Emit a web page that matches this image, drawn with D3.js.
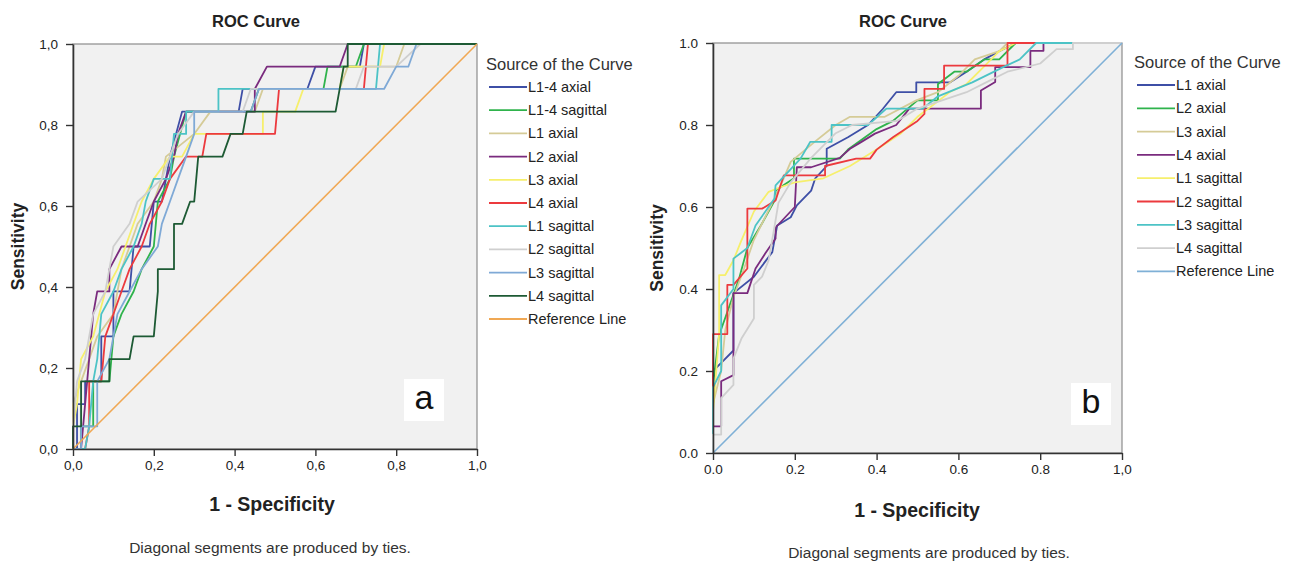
<!DOCTYPE html>
<html>
<head>
<meta charset="utf-8">
<script src="https://cdn.jsdelivr.net/npm/d3@7"></script>
<style>
  body { margin: 0; background: #fff; }
  text { font-family: Arial, "Liberation Sans", sans-serif; }
</style>
</head>
<body>
<div id="chart"></div>
<script>
// tick values shared by both panels
const tickValues = [0, 0.2, 0.4, 0.6, 0.8, 1.0];
const leftTickLabels = ["0,0", "0,2", "0,4", "0,6", "0,8", "1,0"];
const rightTickLabelsY = ["0.0", "0.2", "0.4", "0.6", "0.8", "1.0"];
const rightTickLabelsX = ["0.0", "0.2", "0.4", "0.6", "0.8", "1,0"];

// panel a: legend names and ROC points [1 - specificity, sensitivity]
const leftNames = ["L1-4 axial", "L1-4 sagittal", "L1 axial", "L2 axial", "L3 axial",
  "L4 axial", "L1 sagittal", "L2 sagittal", "L3 sagittal", "L4 sagittal"];

const leftCurves = [
  [[0,0],[0.01,0],[0.01,0.111],[0.03,0.111],[0.03,0.167],[0.07,0.167],[0.07,0.278],[0.1,0.278],[0.1,0.389],[0.14,0.389],[0.15,0.5],[0.19,0.5],[0.2,0.611],[0.22,0.611],[0.24,0.722],[0.27,0.833],[0.41,0.833],[0.42,0.889],[0.58,0.889],[0.6,0.944],[0.71,0.944],[0.72,1],[1,1]],
  [[0,0],[0.02,0],[0.02,0.056],[0.05,0.056],[0.05,0.167],[0.09,0.167],[0.1,0.278],[0.12,0.333],[0.15,0.389],[0.17,0.444],[0.2,0.5],[0.21,0.611],[0.24,0.667],[0.25,0.722],[0.28,0.833],[0.44,0.833],[0.46,0.889],[0.62,0.889],[0.63,0.944],[0.7,0.944],[0.72,1],[1,1]],
  [[0,0],[0,0.111],[0.02,0.167],[0.04,0.222],[0.06,0.278],[0.1,0.333],[0.12,0.444],[0.14,0.5],[0.16,0.556],[0.2,0.611],[0.22,0.667],[0.23,0.722],[0.3,0.778],[0.34,0.833],[0.45,0.833],[0.47,0.889],[0.66,0.889],[0.68,0.944],[0.8,0.944],[0.82,1],[1,1]],
  [[0,0],[0.02,0],[0.03,0.111],[0.04,0.222],[0.05,0.333],[0.06,0.389],[0.09,0.389],[0.09,0.444],[0.12,0.5],[0.16,0.5],[0.18,0.556],[0.2,0.611],[0.23,0.667],[0.25,0.722],[0.26,0.778],[0.28,0.833],[0.45,0.833],[0.45,0.889],[0.48,0.944],[0.66,0.944],[0.68,1],[1,1]],
  [[0,0],[0,0.056],[0.01,0.111],[0.02,0.222],[0.05,0.278],[0.08,0.389],[0.11,0.444],[0.13,0.5],[0.15,0.556],[0.17,0.611],[0.2,0.667],[0.24,0.722],[0.27,0.722],[0.3,0.778],[0.47,0.778],[0.47,0.833],[0.55,0.833],[0.57,0.889],[0.66,0.889],[0.67,0.944],[0.76,0.944],[0.77,1],[1,1]],
  [[0,0],[0.03,0],[0.04,0.056],[0.04,0.167],[0.07,0.167],[0.08,0.278],[0.1,0.333],[0.12,0.389],[0.14,0.444],[0.17,0.5],[0.19,0.556],[0.22,0.611],[0.24,0.667],[0.28,0.722],[0.32,0.722],[0.33,0.778],[0.5,0.778],[0.51,0.889],[0.72,0.889],[0.73,1],[1,1]],
  [[0,0],[0.03,0],[0.04,0.056],[0.05,0.167],[0.06,0.222],[0.07,0.333],[0.1,0.389],[0.12,0.444],[0.15,0.5],[0.17,0.556],[0.18,0.611],[0.2,0.667],[0.24,0.667],[0.25,0.778],[0.28,0.778],[0.28,0.833],[0.36,0.833],[0.36,0.889],[0.75,0.889],[0.76,1],[1,1]],
  [[0,0],[0,0.056],[0.01,0.167],[0.03,0.222],[0.05,0.333],[0.08,0.389],[0.1,0.5],[0.14,0.556],[0.16,0.611],[0.22,0.667],[0.26,0.778],[0.3,0.833],[0.42,0.833],[0.44,0.889],[0.7,0.889],[0.72,0.944],[0.8,0.944],[0.86,1],[1,1]],
  [[0,0],[0.02,0],[0.02,0.056],[0.06,0.056],[0.06,0.167],[0.09,0.222],[0.1,0.278],[0.11,0.333],[0.14,0.389],[0.17,0.444],[0.21,0.5],[0.22,0.556],[0.24,0.611],[0.26,0.667],[0.28,0.722],[0.3,0.778],[0.3,0.833],[0.44,0.833],[0.46,0.889],[0.77,0.889],[0.8,0.944],[0.83,0.944],[0.85,1],[1,1]],
  [[0,0],[0,0.056],[0.02,0.056],[0.02,0.167],[0.09,0.167],[0.09,0.222],[0.14,0.222],[0.15,0.278],[0.2,0.278],[0.21,0.389],[0.21,0.444],[0.25,0.444],[0.25,0.556],[0.27,0.556],[0.29,0.611],[0.3,0.611],[0.31,0.722],[0.37,0.722],[0.39,0.778],[0.42,0.778],[0.43,0.833],[0.65,0.833],[0.67,0.944],[0.68,0.944],[0.68,1],[1,1]]
];

// panel b
const rightNames = ["L1 axial", "L2 axial", "L3 axial", "L4 axial",
  "L1 sagittal", "L2 sagittal", "L3 sagittal", "L4 sagittal"];

const rightCurves = [
  [[0,0],[0,0.2],[0.02,0.22],[0.05,0.25],[0.05,0.39],[0.1,0.43],[0.145,0.49],[0.157,0.555],[0.19,0.575],[0.205,0.604],[0.24,0.64],[0.25,0.67],[0.278,0.7],[0.278,0.742],[0.33,0.77],[0.379,0.8],[0.415,0.839],[0.448,0.88],[0.497,0.88],[0.497,0.904],[0.58,0.904],[0.62,0.93],[0.663,0.96],[0.7,0.98],[0.74,1],[1,1]],
  [[0,0],[0,0.166],[0.015,0.288],[0.03,0.33],[0.064,0.426],[0.084,0.5],[0.12,0.56],[0.153,0.62],[0.153,0.64],[0.198,0.67],[0.198,0.718],[0.31,0.718],[0.33,0.74],[0.4,0.79],[0.44,0.81],[0.5,0.86],[0.55,0.86],[0.55,0.9],[0.59,0.93],[0.62,0.93],[0.663,0.96],[0.7,0.96],[0.74,1],[1,1]],
  [[0,0],[0,0.12],[0.02,0.2],[0.03,0.3],[0.05,0.38],[0.076,0.45],[0.1,0.52],[0.13,0.58],[0.16,0.64],[0.19,0.71],[0.25,0.76],[0.3,0.8],[0.335,0.82],[0.42,0.82],[0.497,0.86],[0.55,0.88],[0.6,0.92],[0.64,0.96],[0.7,0.98],[0.72,1],[1,1]],
  [[0,0],[0,0.065],[0.02,0.065],[0.02,0.175],[0.05,0.19],[0.05,0.39],[0.084,0.39],[0.104,0.45],[0.128,0.487],[0.153,0.523],[0.153,0.55],[0.2,0.6],[0.205,0.697],[0.24,0.697],[0.31,0.72],[0.335,0.742],[0.36,0.757],[0.396,0.779],[0.448,0.8],[0.48,0.84],[0.655,0.84],[0.655,0.884],[0.69,0.905],[0.69,0.941],[0.776,0.941],[0.776,0.981],[0.808,0.981],[0.808,1],[1,1]],
  [[0,0],[0,0.1],[0.015,0.29],[0.015,0.434],[0.03,0.434],[0.05,0.47],[0.068,0.515],[0.1,0.589],[0.136,0.637],[0.17,0.65],[0.2,0.66],[0.27,0.67],[0.335,0.7],[0.4,0.74],[0.46,0.78],[0.5,0.82],[0.553,0.86],[0.578,0.88],[0.62,0.9],[0.66,0.94],[0.7,0.98],[0.74,1],[1,1]],
  [[0,0],[0,0.29],[0.035,0.29],[0.035,0.41],[0.05,0.41],[0.084,0.45],[0.084,0.596],[0.12,0.596],[0.153,0.616],[0.173,0.677],[0.274,0.677],[0.274,0.7],[0.35,0.718],[0.384,0.718],[0.4,0.74],[0.44,0.77],[0.5,0.81],[0.517,0.827],[0.517,0.888],[0.565,0.888],[0.565,0.945],[0.72,0.945],[0.72,1],[1,1]],
  [[0,0],[0,0.16],[0.02,0.2],[0.02,0.36],[0.05,0.4],[0.05,0.474],[0.084,0.5],[0.104,0.555],[0.15,0.62],[0.153,0.653],[0.214,0.718],[0.238,0.759],[0.29,0.759],[0.29,0.8],[0.379,0.8],[0.424,0.84],[0.513,0.84],[0.55,0.87],[0.634,0.904],[0.707,0.94],[0.75,0.96],[0.79,1],[1,1]],
  [[0,0],[0,0.045],[0.02,0.045],[0.02,0.134],[0.05,0.166],[0.05,0.23],[0.07,0.28],[0.1,0.328],[0.1,0.41],[0.12,0.43],[0.136,0.47],[0.15,0.55],[0.16,0.61],[0.19,0.66],[0.24,0.72],[0.3,0.78],[0.34,0.8],[0.45,0.81],[0.5,0.84],[0.56,0.86],[0.62,0.88],[0.68,0.91],[0.72,0.93],[0.8,0.95],[0.84,0.985],[0.88,0.985],[0.88,1],[1,1]]
];

// SPSS default palette
const leftColors = ["#3e4fa6", "#2fb34c", "#d5cb97", "#7a2b7e", "#f6ef6c",
  "#ec3a3e", "#4cc3c6", "#cfcfcf", "#7fa9d6", "#1d5a34"];
const rightColors = ["#3e4fa6", "#2fb34c", "#d5cb97", "#7a2b7e",
  "#f6ef6c", "#ec3a3e", "#4cc3c6", "#cfcfcf"];

const svg = d3.select('#chart')
  .append('svg')
  .attr('width', 1300)
  .attr('height', 564);

function drawPanel(p) {
  const x = d3.scaleLinear().domain([0, 1]).range([p.left, p.right]);
  const y = d3.scaleLinear().domain([0, 1]).range([p.bottom, p.top]);
  const g = svg.append('g');

  // plot background + top/right frame
  g.append('rect')
    .attr('x', p.left).attr('y', p.top)
    .attr('width', p.right - p.left).attr('height', p.bottom - p.top)
    .attr('fill', '#f1f1f1')
    .attr('stroke', '#8c8c8c')
    .attr('stroke-width', 1.2);

  const line = d3.line().x(d => x(d[0])).y(d => y(d[1]));

  g.selectAll('path.curve')
    .data(p.curves)
    .enter().append('path')
    .attr('class', 'curve')
    .attr('d', line)
    .attr('fill', 'none')
    .attr('stroke', (d, i) => p.colors[i])
    .attr('stroke-width', 1.8)
    .attr('stroke-linejoin', 'round');

  // reference line
  g.append('path')
    .attr('d', line([[0, 0], [1, 1]]))
    .attr('stroke', p.refColor)
    .attr('stroke-width', 1.6)
    .attr('fill', 'none');

  // axes
  const yAxis = g.append('g')
    .attr('transform', `translate(${p.left},0)`)
    .call(d3.axisLeft(y).tickValues(tickValues)
      .tickFormat((d, i) => p.yLabels[i]).tickSize(7).tickSizeOuter(0).tickPadding(8));
  const xAxis = g.append('g')
    .attr('transform', `translate(0,${p.bottom})`)
    .call(d3.axisBottom(x).tickValues(tickValues)
      .tickFormat((d, i) => p.xLabels[i]).tickSize(7).tickSizeOuter(0).tickPadding(4));
  [yAxis, xAxis].forEach(a => {
    a.select('.domain').attr('stroke', '#333').attr('stroke-width', 1.6);
    a.selectAll('.tick line').attr('stroke', '#333').attr('stroke-width', 1.4);
    a.selectAll('.tick text')
      .attr('font-family', 'Arial, "Liberation Sans", sans-serif')
      .attr('font-size', 13.5).attr('fill', '#222');
  });

  // titles
  g.append('text')
    .attr('x', p.titleX).attr('y', 27)
    .attr('text-anchor', 'middle')
    .attr('font-size', 16.5).attr('font-weight', 'bold').attr('fill', '#222')
    .text('ROC Curve');
  g.append('text')
    .attr('x', p.xLabelX).attr('y', p.xLabelY)
    .attr('text-anchor', 'middle')
    .attr('font-size', 19.5).attr('font-weight', 'bold').attr('fill', '#222')
    .text('1 - Specificity');
  g.append('text')
    .attr('transform', `translate(${p.yLabelX},${(p.top + p.bottom) / 2}) rotate(-90)`)
    .attr('text-anchor', 'middle')
    .attr('font-size', 17.5).attr('font-weight', 'bold').attr('fill', '#222')
    .text('Sensitivity');
  g.append('text')
    .attr('x', p.captionX).attr('y', p.captionY)
    .attr('text-anchor', 'middle')
    .attr('font-size', 15.5).attr('fill', '#333')
    .text('Diagonal segments are produced by ties.');

  // panel letter in white box
  g.append('rect')
    .attr('x', p.letterX - 20).attr('y', p.letterY - 30)
    .attr('width', 40).attr('height', 42)
    .attr('fill', '#fff');
  g.append('text')
    .attr('x', p.letterX).attr('y', p.letterY)
    .attr('text-anchor', 'middle')
    .attr('font-family', '"Open Sans", sans-serif')
    .attr('font-size', 34).attr('fill', '#111')
    .text(p.letter);

  // legend
  const leg = g.append('g').attr('transform', `translate(${p.legX},${p.legY})`);
  leg.append('text')
    .attr('x', 0).attr('y', 0)
    .attr('font-size', 16.5).attr('fill', '#333')
    .text('Source of the Curve');
  const names = p.names.concat(['Reference Line']);
  const cols = p.colors.concat([p.refColor]);
  const rows = leg.selectAll('g.row')
    .data(names)
    .enter().append('g')
    .attr('transform', (d, i) => `translate(0,${17 + i * p.legStep})`);
  rows.append('line')
    .attr('x1', 3).attr('x2', 41).attr('y1', 0).attr('y2', 0)
    .attr('stroke', (d, i) => cols[i]).attr('stroke-width', 1.8);
  rows.append('text')
    .attr('x', 42).attr('y', 5)
    .attr('font-size', 14.5).attr('fill', '#222')
    .text(d => d);
}

drawPanel({
  left: 73, right: 477, top: 44, bottom: 449,
  curves: leftCurves, colors: leftColors, names: leftNames, refColor: '#f0a854',
  xLabels: leftTickLabels, yLabels: leftTickLabels,
  titleX: 256, xLabelX: 272, xLabelY: 511, yLabelX: 24,
  captionX: 270, captionY: 553,
  letter: 'a', letterX: 424, letterY: 409,
  legX: 486, legY: 70, legStep: 23.2
});

drawPanel({
  left: 713, right: 1122, top: 43, bottom: 453,
  curves: rightCurves, colors: rightColors, names: rightNames, refColor: '#7fb0d6',
  xLabels: rightTickLabelsX, yLabels: rightTickLabelsY,
  titleX: 903, xLabelX: 917, xLabelY: 517, yLabelX: 663,
  captionX: 929, captionY: 558,
  letter: 'b', letterX: 1091, letterY: 413,
  legX: 1134, legY: 68, legStep: 23.3
});
</script>
</body>
</html>
